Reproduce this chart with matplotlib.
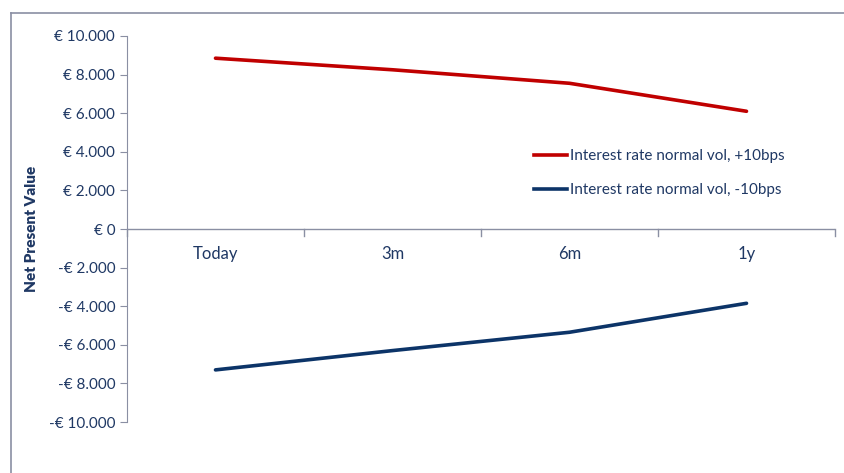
"""Net present value chart"""

import matplotlib.pyplot as plt
from matplotlib.lines import Line2D
from matplotlib.ticker import FuncFormatter

categories = ["Today", "3m", "6m", "1y"]
npv_up = [8850, 8250, 7550, 6100]
npv_down = [-7300, -6300, -5350, -3850]
series_labels = ["Interest rate normal vol, +10bps", "Interest rate normal vol, -10bps"]

TEXT = "#1F3864"
AXIS = "#8A8FA3"
plt.rcParams["font.family"] = ["Lato", "DejaVu Sans"]


def euro(v, pos):
    s = f"{abs(int(v)):,}".replace(",", ".")
    return f"-€ {s}" if v < 0 else f"€ {s}"


W, H = 844, 473
fig = plt.figure(figsize=(W / 100, H / 100), dpi=100)
ax = fig.add_axes([127 / W, 1 - 422 / H, (835 - 127) / W, (422 - 36) / H])

x = range(len(categories))
ax.plot(x, npv_up, color="#C00000", lw=2.6, solid_capstyle="round", label=series_labels[0])
ax.plot(x, npv_down, color="#0C3468", lw=2.6, solid_capstyle="round", label=series_labels[1])

ax.set_xlim(-0.5, len(categories) - 0.5)
ax.set_ylim(-10000, 10000)
ax.set_yticks(range(-10000, 10001, 2000))
ax.yaxis.set_major_formatter(FuncFormatter(euro))

for s in ["top", "right", "bottom"]:
    ax.spines[s].set_visible(False)
ax.spines["left"].set_color(AXIS)
ax.axhline(0, color=AXIS, lw=1)

# category boundary ticks along the zero line
ax.set_xticks([])
for b in [i - 0.5 for i in range(len(categories) + 1)]:
    ax.plot([b, b], [0, -380], color=AXIS, lw=1, clip_on=False)
for i, c in enumerate(categories):
    ax.text(i, -1300, c, ha="center", va="center", color=TEXT, fontsize=12)

ax.tick_params(axis="y", colors=AXIS, labelcolor=TEXT, labelsize=11, length=5)
ax.set_ylabel("Net Present Value", color=TEXT, fontsize=11, fontweight="heavy", labelpad=8)

handles = [Line2D([], [], color="#C00000", lw=2.6), Line2D([], [], color="#0C3468", lw=2.6)]
ax.legend(handles, series_labels, loc="center left", bbox_to_anchor=(0.555, 0.645),
          frameon=False, handlelength=2.2, handletextpad=0.15, labelspacing=1.3,
          labelcolor=TEXT, fontsize=11)

# chart frame (top and left edges visible)
fig.add_artist(Line2D([11 / W, 11 / W], [0, 1 - 13 / H], color=AXIS, lw=1.2))
fig.add_artist(Line2D([11 / W, 1], [1 - 13 / H, 1 - 13 / H], color=AXIS, lw=1.2))

fig.savefig("out.png", dpi=100)
